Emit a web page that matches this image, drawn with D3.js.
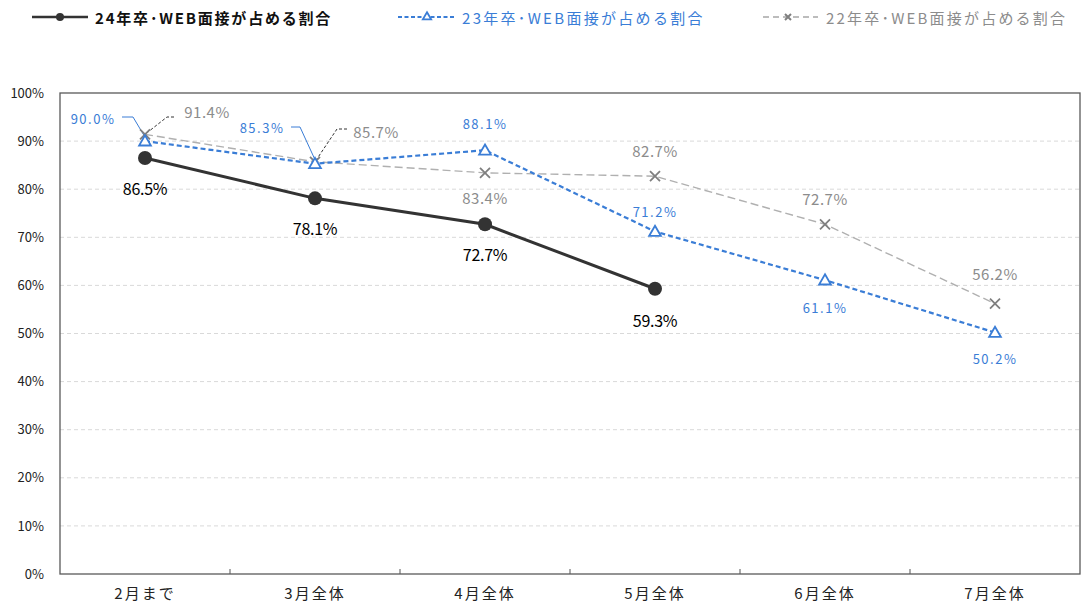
<!DOCTYPE html>
<html>
<head>
<meta charset="utf-8">
<script src="https://cdn.jsdelivr.net/npm/d3@7"></script>
<style>
body { margin: 0; background: #fff; }
text { font-family: "Noto Sans CJK JP", "Noto Sans", sans-serif; }
</style>
</head>
<body>
<div id="chart"></div>
<script>
// categories and values
var categories = ["2月まで", "3月全体", "4月全体", "5月全体", "6月全体", "7月全体"];
var yTicks = [0, 10, 20, 30, 40, 50, 60, 70, 80, 90, 100];
var names = ["24年卒･WEB面接が占める割合", "23年卒･WEB面接が占める割合", "22年卒･WEB面接が占める割合"];
var values24 = [86.5, 78.1, 72.7, 59.3];
var values23 = [90.0, 85.3, 88.1, 71.2, 61.1, 50.2];
var values22 = [91.4, 85.7, 83.4, 82.7, 72.7, 56.2];

var width = 1083, height = 608;
var plotLeft = 60, plotRight = 1080, plotTop = 93, plotBottom = 574;

var svg = d3.select("#chart").append("svg")
    .attr("width", width)
    .attr("height", height);

var x = d3.scaleBand().domain(categories).range([plotLeft, plotRight]);
var y = d3.scaleLinear().domain([0, 100]).range([plotBottom, plotTop]);
function cx(i) { return x(categories[i]) + x.bandwidth() / 2; }

// grid
svg.selectAll(".grid")
    .data(yTicks.filter(function(d) { return d > 0 && d < 100; }))
    .enter().append("line")
    .attr("x1", plotLeft).attr("x2", plotRight)
    .attr("y1", function(d) { return y(d); })
    .attr("y2", function(d) { return y(d); })
    .attr("stroke", "#d9d9d9")
    .attr("stroke-dasharray", "4,3");

// y axis labels
var yAxis = d3.axisLeft(y).tickValues(yTicks).tickFormat(function(d) { return d + "%"; }).tickSize(0).tickPadding(16);
svg.append("g").attr("transform", "translate(" + plotLeft + ",0)").call(yAxis)
    .call(function(g) { g.select(".domain").remove(); })
    .selectAll("text").attr("font-size", 13).attr("fill", "#222")
    .style("font-family", "\"Noto Sans CJK JP\", sans-serif");

// x axis
var xAxis = d3.axisBottom(x).tickSize(0).tickPadding(14);
svg.append("g").attr("transform", "translate(0," + plotBottom + ")").call(xAxis)
    .call(function(g) { g.select(".domain").remove(); })
    .selectAll("text").attr("font-size", 15).attr("fill", "#222").attr("letter-spacing", 2)
    .style("font-family", "\"Noto Sans CJK JP\", sans-serif");

// tick marks between categories
svg.selectAll(".xtick")
    .data(categories.slice(1))
    .enter().append("line")
    .attr("x1", function(d) { return x(d); })
    .attr("x2", function(d) { return x(d); })
    .attr("y1", plotBottom).attr("y2", plotBottom - 5)
    .attr("stroke", "#555");

// plot frame
svg.append("rect")
    .attr("x", plotLeft).attr("y", plotTop)
    .attr("width", plotRight - plotLeft).attr("height", plotBottom - plotTop)
    .attr("fill", "none").attr("stroke", "#595959").attr("stroke-width", 1.3);

var line = d3.line().x(function(d, i) { return cx(i); }).y(function(d) { return y(d); });

// 22
svg.append("path").datum(values22).attr("d", line)
    .attr("fill", "none").attr("stroke", "#b0b0b0").attr("stroke-width", 1.4)
    .attr("stroke-dasharray", "8,4");
// 23
svg.append("path").datum(values23).attr("d", line)
    .attr("fill", "none").attr("stroke", "#3a7dd6").attr("stroke-width", 2.2)
    .attr("stroke-dasharray", "5,3");
// 24
svg.append("path").datum(values24).attr("d", line)
    .attr("fill", "none").attr("stroke", "#333").attr("stroke-width", 3);

// leader lines
function leader(pts, color, dash) {
    svg.append("path")
        .attr("d", d3.line()(pts))
        .attr("fill", "none").attr("stroke", color).attr("stroke-width", 1)
        .attr("stroke-dasharray", dash);
}
leader([[122, 117], [133, 117], [cx(0), y(values23[0]) - 4]], "#3a7dd6", null);
leader([[174, 117], [167, 117], [cx(0), y(values22[0])]], "#333", "3,2");
leader([[291, 127], [300, 127], [cx(1), y(values23[1]) - 4]], "#3a7dd6", null);
leader([[347, 129], [337, 129], [cx(1), y(values22[1])]], "#333", "3,2");

// markers 22
var xSize = 5;
values22.forEach(function(v, i) {
    var px = cx(i), py = y(v);
    svg.append("path")
        .attr("d", "M" + (px - xSize) + "," + (py - xSize) + "L" + (px + xSize) + "," + (py + xSize) +
            "M" + (px - xSize) + "," + (py + xSize) + "L" + (px + xSize) + "," + (py - xSize))
        .attr("stroke", "#7f7f7f").attr("stroke-width", 1.8);
});
// markers 23
var tri = d3.symbol().type(d3.symbolTriangle).size(60);
svg.selectAll(".m23").data(values23).enter().append("path")
    .attr("d", tri)
    .attr("transform", function(d, i) { return "translate(" + cx(i) + "," + (y(d) + 1) + ")"; })
    .attr("fill", "#fff").attr("stroke", "#3a7dd6").attr("stroke-width", 1.8);
// markers 24
svg.selectAll(".m24").data(values24).enter().append("circle")
    .attr("cx", function(d, i) { return cx(i); })
    .attr("cy", function(d) { return y(d); })
    .attr("r", 7).attr("fill", "#333");

// data labels
function fmt(v) { return v.toFixed(1) + "%"; }
var off24 = [[0, 30], [0, 30], [0, 30], [0, 31]];
var off23 = [[-52, -23], [-53, -36], [0, -27], [0, -20], [0, 27], [0, 26]];
var off22 = [[62, -23], [61, -30], [0, 25], [0, -26], [0, -26], [0, -30]];

svg.selectAll(".l24").data(values24).enter().append("text")
    .attr("x", function(d, i) { return cx(i) + off24[i][0]; })
    .attr("y", function(d, i) { return y(d) + off24[i][1]; })
    .attr("text-anchor", "middle").attr("dominant-baseline", "central")
    .attr("font-size", 16).attr("fill", "#000").attr("letter-spacing", -0.3)
    .text(fmt);
svg.selectAll(".l23").data(values23).enter().append("text")
    .attr("x", function(d, i) { return cx(i) + off23[i][0]; })
    .attr("y", function(d, i) { return y(d) + off23[i][1]; })
    .attr("text-anchor", "middle").attr("dominant-baseline", "central")
    .attr("font-size", 13).attr("fill", "#3a7dd6").attr("letter-spacing", 1.5)
    .text(fmt);
svg.selectAll(".l22").data(values22).enter().append("text")
    .attr("x", function(d, i) { return cx(i) + off22[i][0]; })
    .attr("y", function(d, i) { return y(d) + off22[i][1]; })
    .attr("text-anchor", "middle").attr("dominant-baseline", "central")
    .attr("font-size", 15).attr("fill", "#8c8c8c").attr("letter-spacing", 0.5)
    .text(fmt);

// legend
var ly = 17;
var lg = svg.append("g");
lg.append("line").attr("x1", 32).attr("x2", 88).attr("y1", ly).attr("y2", ly)
    .attr("stroke", "#333").attr("stroke-width", 2.5);
lg.append("circle").attr("cx", 60).attr("cy", ly).attr("r", 4).attr("fill", "#333");
lg.append("text").attr("x", 95).attr("y", ly).attr("dominant-baseline", "central")
    .attr("font-size", 15).attr("font-weight", "bold").attr("fill", "#111")
    .attr("letter-spacing", 1.8).text(names[0]);

lg.append("line").attr("x1", 398).attr("x2", 456).attr("y1", ly).attr("y2", ly)
    .attr("stroke", "#3a7dd6").attr("stroke-width", 2).attr("stroke-dasharray", "4,2.5");
lg.append("path").attr("d", d3.symbol().type(d3.symbolTriangle).size(30))
    .attr("transform", "translate(427," + (ly) + ")")
    .attr("fill", "#fff").attr("stroke", "#3a7dd6").attr("stroke-width", 1.8);
lg.append("text").attr("x", 462).attr("y", ly).attr("dominant-baseline", "central")
    .attr("font-size", 15).attr("fill", "#3a7dd6")
    .attr("letter-spacing", 2.3).text(names[1]);

lg.append("line").attr("x1", 763).attr("x2", 818).attr("y1", ly).attr("y2", ly)
    .attr("stroke", "#a6a6a6").attr("stroke-width", 1.5).attr("stroke-dasharray", "6,4");
lg.append("path").attr("d", "M785,14L791,20M785,20L791,14")
    .attr("stroke", "#7f7f7f").attr("stroke-width", 2);
lg.append("text").attr("x", 826).attr("y", ly).attr("dominant-baseline", "central")
    .attr("font-size", 15).attr("fill", "#8c8c8c")
    .attr("letter-spacing", 2.2).text(names[2]);
</script>
</body>
</html>
